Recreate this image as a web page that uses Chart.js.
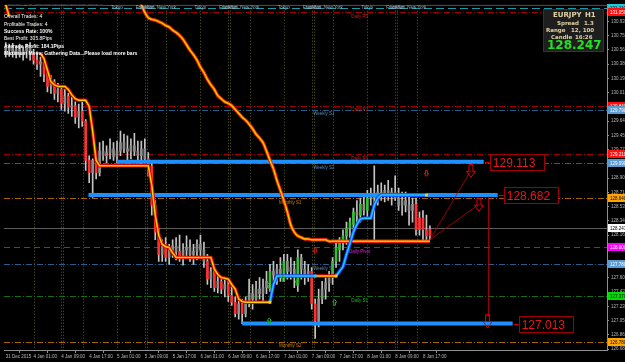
<!DOCTYPE html>
<html>
<head>
<meta charset="utf-8">
<script src="https://cdn.jsdelivr.net/npm/chart.js@4.4.1/dist/chart.umd.min.js"></script>
<style>
  html, body { margin: 0; padding: 0; background: #000; overflow: hidden; }
  canvas { display: block; }
</style>
</head>
<body>
<canvas id="chart" width="625" height="362"></canvas>
<script>
// EURJPY H1 candles, one per bar index (0 = 31 Dec, 8 = 4 Jan 01:00 ...)
const openP = [
  130.60,130.56,130.59,130.54,130.57,130.51,130.55,130.60,130.51,130.43,
  130.38,130.41,130.25,130.09,130.15,130.00,130.05,129.87,129.96,129.82,
  129.84,129.69,129.77,129.64,129.13,128.97,129.13,128.97,129.25,129.19,
  129.23,129.28,129.18,129.25,129.36,129.28,129.25,129.32,129.25,129.19,
  129.28,129.15,129.06,128.55,128.20,127.91,128.04,127.87,127.97,128.02,
  127.95,127.87,127.97,128.00,127.91,127.95,128.04,127.97,127.82,127.59,
  127.69,127.48,127.56,127.46,127.52,127.38,127.29,127.14,127.27,127.14,
  127.30,127.40,127.33,127.46,127.40,127.48,127.54,127.69,127.64,127.72,
  127.64,127.82,127.69,127.72,127.52,127.87,127.72,127.64,127.69,127.27,
  127.05,127.33,127.46,127.54,127.61,127.82,127.97,128.07,128.15,128.25,
  128.30,128.46,128.42,128.56,128.48,128.64,128.68,128.64,128.72,128.68,
  128.74,128.66,128.72,128.64,128.55,128.61,128.55,128.48,128.56,128.23,
  128.38,128.23,128.15
];
const highP = [
  130.66,130.64,130.65,130.61,130.64,130.60,130.64,130.66,130.57,130.54,
  130.47,130.46,130.31,130.23,130.18,130.13,130.08,130.05,130.00,129.95,
  129.89,129.86,129.89,129.66,129.19,129.15,129.19,129.36,129.38,129.32,
  129.41,129.36,129.38,129.51,129.47,129.45,129.41,129.48,129.38,129.38,
  129.41,129.23,129.13,128.61,128.25,128.10,128.13,128.04,128.10,128.13,
  128.16,128.05,128.15,128.10,128.04,128.10,128.16,128.07,127.91,127.74,
  127.72,127.64,127.61,127.59,127.56,127.51,127.36,127.33,127.33,127.36,
  127.59,127.52,127.56,127.61,127.59,127.69,127.78,127.82,127.78,127.87,
  127.91,127.91,127.87,127.82,127.97,127.91,127.82,127.78,127.74,127.33,
  127.46,127.56,127.61,127.69,127.87,128.07,128.13,128.23,128.33,128.38,
  128.51,128.61,128.64,128.66,128.74,128.77,129.06,128.81,128.84,128.81,
  128.87,128.77,128.93,128.77,128.72,128.72,128.68,128.64,128.64,128.46,
  128.48,128.42,128.28
];
const lowP = [
  130.47,130.48,130.47,130.46,130.47,130.43,130.46,130.43,130.38,130.31,
  130.22,130.15,130.02,130.00,129.92,129.89,129.79,129.77,129.74,129.70,
  129.61,129.55,129.57,129.00,128.84,128.65,128.89,128.93,129.13,129.10,
  129.15,129.13,129.10,129.19,129.23,129.13,129.15,129.19,129.10,129.06,
  129.10,128.93,128.42,128.10,127.82,127.82,127.82,127.78,127.87,127.84,
  127.82,127.77,127.87,127.82,127.78,127.84,127.87,127.74,127.52,127.48,
  127.43,127.41,127.40,127.36,127.30,127.25,127.10,127.07,127.01,127.10,
  127.23,127.20,127.27,127.33,127.30,127.40,127.43,127.56,127.52,127.56,
  127.56,127.59,127.59,127.48,127.43,127.59,127.52,127.56,127.20,126.82,
  126.97,127.27,127.33,127.43,127.52,127.74,127.82,127.97,128.04,128.13,
  128.20,128.29,128.33,128.42,128.38,128.55,128.10,128.55,128.61,128.59,
  128.61,128.55,128.61,128.48,128.42,128.46,128.29,128.33,128.16,128.16,
  128.10,128.07,128.10
];
const closeP = [
  130.56,130.59,130.54,130.57,130.51,130.55,130.60,130.51,130.43,130.38,
  130.41,130.25,130.09,130.15,130.00,130.05,129.87,129.96,129.82,129.84,
  129.69,129.77,129.64,129.13,128.97,129.13,128.97,129.25,129.19,129.23,
  129.28,129.18,129.25,129.36,129.28,129.25,129.32,129.25,129.19,129.28,
  129.15,129.06,128.55,128.20,127.91,128.04,127.87,127.97,128.02,127.95,
  127.87,127.97,128.00,127.91,127.95,128.04,127.97,127.82,127.59,127.69,
  127.48,127.56,127.46,127.52,127.38,127.29,127.14,127.27,127.14,127.30,
  127.40,127.33,127.46,127.40,127.48,127.56,127.69,127.64,127.72,127.66,
  127.82,127.69,127.74,127.65,127.87,127.72,127.64,127.69,127.27,127.05,
  127.33,127.46,127.54,127.61,127.82,128.00,128.07,128.15,128.25,128.33,
  128.46,128.42,128.56,128.48,128.64,128.68,128.64,128.72,128.68,128.74,
  128.66,128.72,128.64,128.55,128.61,128.55,128.48,128.56,128.23,128.38,
  128.23,128.15,128.24
];
// candle trend state: d = down (red), u = up (green), n = neutral (grey)
const candleTrend = ('nnnnnnnndd' + 'nddndndndn' + 'dndddndnnn' + 'nnnnnnnnnn' +
  'nddddndnnn' + 'dnnnnnnndn' + 'dndndddndn' + 'nnnnnnunnn' + 'unnnunnndd' +
  'nnnnuuuuuu' + 'unununnnnn' + 'nnnnnnnndd' + 'ddd').split('');

// step trend line (yellow = down side, cyan = up side); null = above the window
const trailVals = [
  131.15,131.00,null,null,null,null,null,null,null,null,
  130.52,130.45,130.30,130.15,130.11,130.09,130.09,130.09,130.05,129.98,
  129.93,129.91,129.91,129.91,129.83,129.51,129.13,129.06,129.06,129.06,
  129.06,129.06,129.06,129.06,129.06,129.06,129.06,129.06,129.06,129.06,
  129.06,129.06,128.81,128.42,128.16,128.04,128.01,128.00,127.93,127.87,
  127.87,127.87,127.87,127.87,127.87,127.87,127.87,127.87,127.87,127.87,
  127.72,127.65,127.61,127.60,127.59,127.52,127.46,127.33,127.30,127.29,
  127.29,127.29,127.29,127.29,127.29,127.29,127.29,127.52,127.63,127.63,
  127.63,127.63,127.63,127.63,127.63,127.63,127.63,127.63,127.63,127.63,
  127.63,127.63,127.63,127.63,127.63,127.63,127.69,127.75,127.91,128.05,
  128.20,128.30,128.37,128.38,128.38,128.38,128.55,128.64,128.68,128.68,
  128.68,128.68,128.68,128.68,128.68,128.68,128.68,128.68,128.68,128.68,
  128.68,128.68
];
const trailSide = ('d'.repeat(77) + 'u'.repeat(13) + 'd'.repeat(6) + 'u'.repeat(26)).split('');
const trailMarks = [76, 89, 95, 121];

// slow moving average (starts above the window)
const maStart = 36;
const maVals = [
  131.37,131.31,131.23,131.15,131.05,130.98,130.96,130.95,130.93,130.91,
  130.88,130.86,130.82,130.79,130.75,130.70,130.63,130.56,130.50,130.43,
  130.34,130.27,130.18,130.11,130.05,129.97,129.93,129.89,129.87,129.84,
  129.79,129.74,129.69,129.65,129.60,129.54,129.47,129.42,129.36,129.25,
  129.13,129.02,128.87,128.74,128.61,128.46,128.29,128.20,128.15,128.13,
  128.11,128.11,128.10,128.10,128.10,128.10,128.10,128.08,128.08,128.08,
  128.08,128.08,128.08,128.08,128.08,128.08,128.08,128.08,128.08,128.08,
  128.08,128.08,128.08,128.08,128.08,128.08,128.08,128.08,128.08,128.08,
  128.08,128.08,128.08,128.08,128.08,128.08,128.08
];

// pivot levels
const levelNames  = ['Daily R3','Daily R2','Weekly S1','Daily R1','Weekly S2','Monthly S1','Daily Pivot','Weekly S3','Daily S1','Monthly S2'];
const levelPrices = [131.05, 129.84, 129.79, 129.21, 129.09, 128.64, 128.00, 127.78, 127.37, 126.78];
const levelKinds  = ['dr','dr','ws','dr','ws','ms','dp','ws','ds','ms'];

// target lines
const targetPrices = [129.113, 128.682, 127.013];
const targetFrom   = [32, 23.8, 68];
const targetTo     = [137.5, 141.5, 145.8];

// signal arrows
const arrowIdx   = [133.8, 136.1, 138.6];
const arrowPrice = [129.00, 128.56, 127.05];
const upMarkIdx   = [75.8, 79.8, 83.8, 75.8, 94.6];
const upMarkPrice = [127.51, 127.60, 127.55, 127.05, 127.29];
const dnMarkIdx   = [121, 89];
const dnMarkPrice = [128.96, 127.96];

// sessions
const sessionIdx = [8,16,16.6,22.2, 32,40,40.6,46.2, 56,64,64.6,70.2, 80,88,88.6,94.2, 104,112,112.6,118.2];
const sessionNames = ['Tokyo','Frankfurt','London','New York'];
const sessionRowPrice = 131.11;
const bidPrice = 128.247;

// axes
const xTickIdx  = [0,8,16,24,32,40,48,56,64,72,80,88,96,104,112,120];
const xTickText = ['31 Dec 2015','4 Jan 01:00','4 Jan 09:00','4 Jan 17:00','5 Jan 01:00','5 Jan 09:00',
  '5 Jan 17:00','6 Jan 01:00','6 Jan 09:00','6 Jan 17:00','7 Jan 01:00','7 Jan 09:00','7 Jan 17:00',
  '8 Jan 01:00','8 Jan 09:00','8 Jan 17:00'];
const yTicks = [126.680,126.865,127.050,127.235,127.420,127.605,127.790,127.975,128.160,128.345,
  128.530,128.715,128.900,129.085,129.270,129.455,129.640,129.825,130.010,130.195,130.380,
  130.565,130.750,130.935];

const infoLines = ['Overall Trades: 4','Profitable Trades: 4','Success Rate: 100%','Best Profit: 305.8Pips',
  'Average Profit: 184.1Pips','Maximum Move: Gathering Data...Please load more bars'];
const infoBold = [false,false,true,false,true,true];

const FONT = '"Liberation Sans", Arial, sans-serif';
const kindStyle = {
  dr: { line: '#a00000', text: '#d01818', box: '#ff1010', boxText: '#ffffff', dash: [6,2,1,2], at: 101.8 },
  ws: { line: '#2c5c8c', text: '#5a88b4', box: '#5b9bd5', boxText: '#ffffff', dash: [6,2,1,2], at: 91.5 },
  ms: { line: '#a86400', text: '#c88010', box: '#ffa500', boxText: '#000000', dash: [6,2,1,2], at: 81.8 },
  dp: { line: '#b000b0', text: '#e020e0', box: '#ff00ff', boxText: '#ffffff', dash: [6,4], at: 101.8 },
  ds: { line: '#157015', text: '#20b020', box: '#00dd00', boxText: '#000000', dash: [6,2,1,2], at: 101.8 }
};
const trendColor = { d: '#ff3030', u: '#30c030', n: '#8c8c8c' };

function hline(c, a, y) {
  y = Math.round(y) + 0.5;
  c.beginPath(); c.moveTo(a.left, y); c.lineTo(a.right, y); c.stroke();
}

function downArrow(c, cx, top, s) {
  c.beginPath();
  c.moveTo(cx - 2*s, top); c.lineTo(cx + 2*s, top); c.lineTo(cx + 2*s, top + 7*s);
  c.lineTo(cx + 4.5*s, top + 7*s); c.lineTo(cx, top + 13*s); c.lineTo(cx - 4.5*s, top + 7*s);
  c.lineTo(cx - 2*s, top + 7*s); c.closePath(); c.stroke();
}
function upArrow(c, cx, bottom, s) {
  c.beginPath();
  c.moveTo(cx - 2*s, bottom); c.lineTo(cx + 2*s, bottom); c.lineTo(cx + 2*s, bottom - 7*s);
  c.lineTo(cx + 4.5*s, bottom - 7*s); c.lineTo(cx, bottom - 13*s); c.lineTo(cx - 4.5*s, bottom - 7*s);
  c.lineTo(cx - 2*s, bottom - 7*s); c.closePath(); c.stroke();
}

function axisBox(c, a, y, fill, color, text) {
  const x0 = a.right + 1;
  c.fillStyle = fill;
  c.fillRect(x0, Math.round(y) - 4, 625 - x0, 8);
  c.fillStyle = color;
  c.font = '4.5px ' + FONT;
  c.textAlign = 'left'; c.textBaseline = 'middle';
  c.fillText(text, x0 + 2, Math.round(y) + 0.5);
}

const mtPlugin = {
  id: 'mt',
  beforeDraw(chart) {
    const c = chart.ctx;
    c.save(); c.fillStyle = '#000'; c.fillRect(0, 0, chart.width, chart.height); c.restore();
  },
  beforeDatasetsDraw(chart) {
    const c = chart.ctx, a = chart.chartArea, X = chart.scales.x, Y = chart.scales.y;
    c.save();
    c.beginPath(); c.rect(a.left, a.top, a.right - a.left, a.bottom - a.top); c.clip();
    c.lineWidth = 1;
    // session separators
    c.strokeStyle = '#5e5e1e'; c.setLineDash([1, 2]);
    sessionIdx.forEach(v => {
      const x = Math.round(X.getPixelForValue(v)) + 0.5;
      c.beginPath(); c.moveTo(x, a.top); c.lineTo(x, a.bottom); c.stroke();
    });
    // session row
    c.strokeStyle = '#1a9aa8'; c.setLineDash([8, 4]);
    hline(c, a, Y.getPixelForValue(sessionRowPrice));
    // pivot levels
    levelPrices.forEach((p, k) => {
      const st = kindStyle[levelKinds[k]];
      c.strokeStyle = st.line; c.setLineDash(st.dash);
      hline(c, a, Y.getPixelForValue(p));
    });
    // bid line
    c.setLineDash([]); c.strokeStyle = '#5c5c5c';
    hline(c, a, Y.getPixelForValue(bidPrice));
    // top frame
    c.strokeStyle = '#6a6a6a';
    c.beginPath(); c.moveTo(a.left, a.top + 0.5); c.lineTo(a.right, a.top + 0.5); c.stroke();
    c.restore();
  },
  afterDatasetsDraw(chart) {
    const c = chart.ctx, a = chart.chartArea, X = chart.scales.x, Y = chart.scales.y;
    c.save();
    c.beginPath(); c.rect(a.left, a.top, a.right - a.left, a.bottom - a.top); c.clip();

    // level labels
    c.font = '4.5px ' + FONT; c.textAlign = 'center'; c.textBaseline = 'top';
    levelNames.forEach((n, k) => {
      const st = kindStyle[levelKinds[k]];
      c.fillStyle = st.text;
      c.fillText(n, X.getPixelForValue(st.at), Y.getPixelForValue(levelPrices[k]) + 2);
    });
    // session names
    c.fillStyle = '#8fb0bc'; c.textBaseline = 'middle';
    const sy = Y.getPixelForValue(sessionRowPrice);
    sessionIdx.forEach((v, k) => {
      const x = X.getPixelForValue(v);
      if (x > 100) c.fillText(sessionNames[k % 4], x, sy);
    });

    // signal lines and arrows
    c.strokeStyle = '#c00000'; c.lineWidth = 0.8;
    const lastX = X.getPixelForValue(closeP.length - 1), lastY = Y.getPixelForValue(128.10);
    [0, 1].forEach(k => {
      c.beginPath(); c.moveTo(lastX, lastY);
      c.lineTo(X.getPixelForValue(arrowIdx[k]), Y.getPixelForValue(arrowPrice[k]));
      c.stroke();
    });
    const vx = Math.round(X.getPixelForValue(arrowIdx[2])) + 0.5;
    c.beginPath(); c.moveTo(vx, Y.getPixelForValue(128.66)); c.lineTo(vx, Y.getPixelForValue(arrowPrice[2]) - 4); c.stroke();
    c.strokeStyle = '#e00000'; c.lineWidth = 1;
    arrowIdx.forEach((v, k) => downArrow(c, X.getPixelForValue(v), Y.getPixelForValue(arrowPrice[k]) - 6, 1));
    c.strokeStyle = '#20b020';
    upMarkIdx.forEach((v, k) => upArrow(c, X.getPixelForValue(v), Y.getPixelForValue(upMarkPrice[k]) + 3, 0.45));
    c.strokeStyle = '#d02020';
    dnMarkIdx.forEach((v, k) => downArrow(c, X.getPixelForValue(v), Y.getPixelForValue(dnMarkPrice[k]) - 3, 0.45));

    // target labels
    targetPrices.forEach((p, k) => {
      const x = X.getPixelForValue(targetTo[k]), y = Math.round(Y.getPixelForValue(p)) + 0.5;
      c.strokeStyle = '#d00000'; c.lineWidth = 1;
      c.beginPath(); c.moveTo(x + 1, y); c.lineTo(x + 7, y); c.stroke();
      c.fillStyle = '#000'; c.fillRect(x + 6, y - 8, 54, 16);
      c.strokeStyle = '#a00000'; c.strokeRect(Math.round(x + 6) + 0.5, y - 8, 54, 16);
      c.fillStyle = '#e81818'; c.font = '12px ' + FONT; c.textAlign = 'left'; c.textBaseline = 'middle';
      c.fillText(p.toFixed(3), x + 9, y + 1);
    });

    // title and statistics
    c.fillStyle = '#ffffff'; c.textAlign = 'left'; c.textBaseline = 'middle';
    c.font = '4.5px ' + FONT;
    c.fillText('EURJPY,H1  128.152 128.283 128.101 128.247', 8, 4);
    infoLines.forEach((t, k) => {
      c.font = (infoBold[k] ? 'bold ' : '') + '5px ' + FONT;
      c.fillText(t, 4, 17 + k * 7.3);
    });

    // symbol panel
    c.fillStyle = '#1e1e1e'; c.fillRect(543, 9, 60, 42);
    c.strokeStyle = '#333'; c.strokeRect(543.5, 9.5, 60, 42);
    c.fillStyle = '#e2d2a8'; c.textAlign = 'left';
    c.font = 'bold 7px "DejaVu Sans", sans-serif';
    c.fillText('EURJPY', 553, 15); c.fillText('H1', 585, 15);
    c.font = 'bold 5.5px "DejaVu Sans", sans-serif';
    c.fillText('Spread', 557, 24); c.fillText('1.3', 584, 24);
    c.fillText('Range', 546, 31); c.fillText('12, 100', 571, 31);
    c.fillText('Candle', 551, 38); c.fillText('16:26', 575, 38);
    c.fillStyle = '#22e022'; c.font = 'bold 12px "DejaVu Sans", sans-serif';
    c.fillText(bidPrice.toFixed(3), 547, 45.5);
    c.restore();

    // price boxes on the axis
    c.save();
    axisBox(c, a, Y.getPixelForValue(sessionRowPrice), '#20c8d8', '#000', sessionRowPrice.toFixed(3));
    levelPrices.forEach((p, k) => {
      const st = kindStyle[levelKinds[k]];
      axisBox(c, a, Y.getPixelForValue(p), st.box, st.boxText, p.toFixed(3));
    });
    axisBox(c, a, Y.getPixelForValue(bidPrice), '#ffffff', '#000', bidPrice.toFixed(3));
    c.restore();
  }
};

const idx = closeP.map((_, i) => i);
const wickData = idx.map(i => ({ x: i, y: [lowP[i], highP[i]] }));
const bodyData = idx.map(i => ({ x: i, y: [openP[i], closeP[i]] }));
const trailData = trailVals.map((v, i) => ({ x: i, y: v }));
const maData = maVals.map((v, k) => ({ x: maStart + k, y: v }));

const trailUnder = { d: '#e00000', u: '#0a4cff' };
const trailTop = { d: '#ffd000', u: '#28c8ff' };

const datasets = [
  { type: 'bar', data: wickData, backgroundColor: '#c4c4c4', barThickness: 1, grouped: false, order: 10, clip: 0, borderWidth: 0 },
  { type: 'bar', data: bodyData, backgroundColor: idx.map(i => trendColor[candleTrend[i]]),
    barThickness: 2, minBarLength: 1, grouped: false, order: 9, clip: 0, borderWidth: 0 }
];
targetPrices.forEach((p, k) => {
  datasets.push({ type: 'line', data: [{ x: targetFrom[k], y: p }, { x: targetTo[k], y: p }],
    borderColor: '#1e8fff', borderWidth: 4, pointRadius: 0, order: 7, clip: 0 });
});
datasets.push(
  { type: 'line', data: maData, borderColor: '#e82000', borderWidth: 3.5, pointRadius: 0, tension: 0.3, order: 6, clip: 0 },
  { type: 'line', data: maData, borderColor: '#ffc400', borderWidth: 1.5, pointRadius: 0, tension: 0.3, order: 5, clip: 0 },
  { type: 'line', data: trailData, borderWidth: 3.5, pointRadius: 0, order: 4, clip: 0, spanGaps: false,
    segment: { borderColor: ctx => trailUnder[trailSide[ctx.p1DataIndex]] } },
  { type: 'line', data: trailData, borderWidth: 1.5, order: 3, clip: 0, spanGaps: false,
    segment: { borderColor: ctx => trailTop[trailSide[ctx.p1DataIndex]] },
    pointStyle: 'rect',
    pointRadius: ctx => trailMarks.includes(ctx.dataIndex) ? 2 : 0,
    pointBackgroundColor: ctx => ctx.dataIndex === 121 ? '#ffd000' : trailTop[trailSide[ctx.dataIndex]],
    pointBorderWidth: 0 }
);

new Chart(document.getElementById('chart'), {
  type: 'bar',
  data: { datasets },
  plugins: [mtPlugin],
  options: {
    responsive: false,
    animation: false,
    layout: { padding: { top: 2, left: 0, right: 0, bottom: 0 } },
    plugins: { legend: { display: false }, tooltip: { enabled: false } },
    scales: {
      x: {
        type: 'linear', min: -0.5, max: 172.93, offset: false,
        grid: { drawOnChartArea: false, color: '#909090', tickLength: 3 },
        border: { color: '#909090' },
        ticks: {
          autoSkip: false, maxRotation: 0, align: 'start', padding: 1,
          color: '#b8b8b8', font: { family: FONT, size: 4.5 },
          callback: v => { const k = xTickIdx.indexOf(v); return k >= 0 ? xTickText[k] : ''; }
        },
        afterBuildTicks: s => { s.ticks = xTickIdx.map(v => ({ value: v })); },
        afterFit: s => { s.height = 12; }
      },
      y: {
        position: 'right', min: 126.67, max: 131.15,
        grid: { drawOnChartArea: false, color: '#909090', tickLength: 2 },
        border: { color: '#909090' },
        ticks: {
          autoSkip: false, padding: 2, color: '#b8b8b8', font: { family: FONT, size: 4.5 },
          callback: v => Number(v).toFixed(3)
        },
        afterBuildTicks: s => { s.ticks = yTicks.map(v => ({ value: v })); },
        afterFit: s => { s.height; s.width = 18; }
      }
    }
  }
});
</script>
</body>
</html>
